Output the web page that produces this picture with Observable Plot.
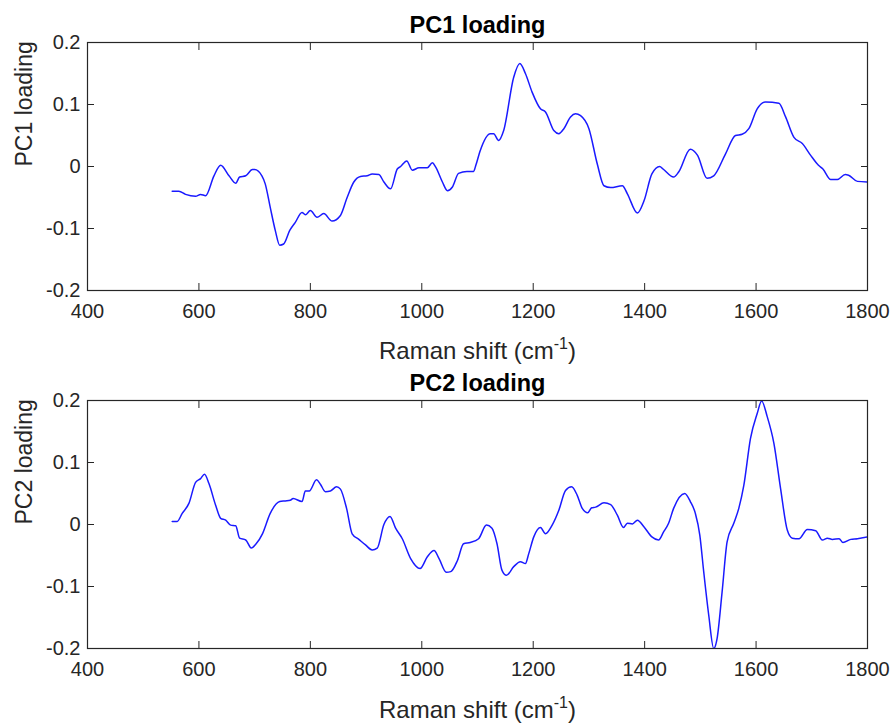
<!DOCTYPE html>
<html><head><meta charset="utf-8">
<script src="https://cdn.jsdelivr.net/npm/d3@7"></script>
<script src="https://cdn.jsdelivr.net/npm/@observablehq/plot@0.6"></script>
<style>
body{margin:0;background:#fff;}
#chart{width:895px;height:726px;font-family:"Liberation Sans",Arial,Helvetica,sans-serif;}
#chart svg{display:block;}
</style></head><body><div id="chart"></div>
<script>
const pc1Shift = [552,564,576,594,603,612,627,639,654,666,673,684,696,700,713,719,728,737,745,752,763,773,785,791,800,812,824,839,854,866,878,890,902,911,923,932,944,956,962,973,983,995,1010,1019,1025,1037,1046,1055,1066,1081,1093,1097,1105,1123,1129,1138,1147,1165,1176,1186,1198,1213,1222,1237,1246,1255,1267,1276,1285,1300,1315,1327,1339,1360,1369,1387,1399,1413,1427,1433,1452,1461,1482,1495,1512,1524,1545,1563,1575,1587,1602,1617,1641,1653,1668,1683,1698,1712,1720,1734,1746,1760,1766,1782,1800];
const pc1Loading = [-0.040,-0.040,-0.045,-0.048,-0.045,-0.047,-0.015,0.002,-0.015,-0.027,-0.017,-0.015,-0.005,-0.005,-0.015,-0.028,-0.066,-0.103,-0.127,-0.125,-0.103,-0.090,-0.074,-0.078,-0.071,-0.082,-0.076,-0.088,-0.079,-0.050,-0.025,-0.016,-0.015,-0.012,-0.013,-0.025,-0.036,-0.004,0.000,0.009,-0.006,-0.002,-0.002,0.006,-0.001,-0.025,-0.039,-0.033,-0.011,-0.008,-0.008,0.002,0.026,0.053,0.053,0.042,0.058,0.144,0.166,0.150,0.120,0.093,0.088,0.058,0.053,0.061,0.080,0.085,0.082,0.061,0.004,-0.031,-0.034,-0.031,-0.044,-0.075,-0.055,-0.012,0.000,-0.004,-0.017,-0.009,0.028,0.018,-0.019,-0.015,0.020,0.050,0.052,0.061,0.093,0.104,0.102,0.080,0.047,0.037,0.018,0.002,-0.004,-0.021,-0.021,-0.013,-0.014,-0.024,-0.025];
const pc2Shift = [552,561,570,582,594,603,610,618,630,639,648,657,666,673,684,694,702,714,728,745,755,764,769,785,791,798,811,818,827,836,847,854,865,875,887,899,911,920,932,943,953,965,980,997,1010,1022,1031,1044,1052,1064,1075,1087,1102,1116,1126,1135,1144,1152,1165,1177,1186,1192,1201,1213,1222,1234,1246,1258,1269,1279,1288,1298,1305,1312,1327,1339,1351,1362,1369,1378,1387,1399,1413,1425,1434,1443,1452,1472,1482,1491,1499,1506,1515,1524,1530,1539,1548,1560,1569,1578,1590,1602,1610,1620,1632,1644,1656,1665,1677,1692,1707,1719,1728,1737,1749,1756,1770,1782,1800];
const pc2Loading = [0.005,0.005,0.018,0.034,0.068,0.074,0.081,0.066,0.031,0.010,0.007,-0.001,-0.002,-0.022,-0.025,-0.038,-0.032,-0.015,0.018,0.037,0.038,0.039,0.042,0.037,0.054,0.054,0.072,0.065,0.053,0.054,0.061,0.057,0.026,-0.015,-0.024,-0.033,-0.041,-0.038,0.000,0.013,-0.006,-0.023,-0.055,-0.071,-0.052,-0.042,-0.055,-0.077,-0.076,-0.058,-0.031,-0.029,-0.023,-0.001,-0.006,-0.031,-0.074,-0.082,-0.068,-0.060,-0.063,-0.047,-0.020,-0.005,-0.015,-0.001,0.023,0.055,0.061,0.047,0.026,0.019,0.027,0.028,0.035,0.032,0.015,-0.005,0.002,0.001,0.007,-0.004,-0.020,-0.025,-0.012,0.002,0.026,0.050,0.037,0.018,-0.017,-0.076,-0.146,-0.200,-0.184,-0.109,-0.028,0.002,0.026,0.063,0.139,0.179,0.199,0.174,0.131,0.058,-0.009,-0.022,-0.023,-0.008,-0.010,-0.025,-0.022,-0.024,-0.023,-0.029,-0.024,-0.023,-0.020];
const xTicks = [400,600,800,1000,1200,1400,1600,1800];
const yTicks = [-0.2,-0.1,0,0.1,0.2];
const yTickLabels = ["-0.2","-0.1","0","0.1","0.2"];
const panelTitles = ["PC1 loading","PC2 loading"];
const yLabels = ["PC1 loading","PC2 loading"];
const xLabelMain = "Raman shift (cm";
const xLabelSup = "-1";
const xLabelEnd = ")";

const axisColor = "#262626";
const FONT = '"Liberation Sans",Arial,Helvetica,sans-serif';

function panel(shift, loading, title, ylab, opts) {
  const data = shift.map((x, i) => ({x, y: loading[i]}));
  const fullLabel = xLabelMain + xLabelSup + xLabelEnd;
  const svg = Plot.plot({
    width: 895, height: opts.height,
    marginLeft: 87, marginRight: 28, marginTop: opts.marginTop, marginBottom: opts.marginBottom,
    style: {fontFamily: FONT, fontSize: "20px", color: axisColor, background: "white", overflow: "visible"},
    x: {domain: [400, 1800]},
    y: {domain: [-0.2, 0.2]},
    marks: [
      Plot.line(data, {x: "x", y: "y", stroke: "#1a1aff", strokeWidth: 1.5, curve: "monotone-x", clip: true}),
      Plot.frame({stroke: axisColor, strokeWidth: 1.2}),
      Plot.axisX(xTicks, {anchor: "bottom", tickSize: 7, dy: -7, text: null, label: null}),
      Plot.axisX(xTicks, {anchor: "top", tickSize: 7, dy: 7, text: null, label: null}),
      Plot.axisY(yTicks, {anchor: "left", tickSize: 7, dx: 7, text: null, label: null}),
      Plot.axisY(yTicks, {anchor: "right", tickSize: 7, dx: -7, text: null, label: null}),
      Plot.axisX(xTicks, {anchor: "bottom", tickSize: 0, tickPadding: 13, label: null, tickFormat: d => String(d)}),
      Plot.axisY(yTicks, {anchor: "left", tickSize: 0, tickPadding: 7, label: null, tickFormat: d => yTickLabels[yTicks.indexOf(d)]}),
      Plot.text([title], {text: d => d, frameAnchor: "top", dy: -10, lineAnchor: "bottom", fontWeight: "bold", fontSize: 23.5, fill: "black"}),
      Plot.text([ylab], {text: d => d, frameAnchor: "left", dx: -63, rotate: -90, fontSize: 23, fill: axisColor}),
      Plot.text([fullLabel], {text: d => d, frameAnchor: "bottom", dy: opts.labelDy, lineAnchor: "bottom", fontSize: 24, fill: axisColor})
    ]
  });
  // superscript for cm^-1
  svg.querySelectorAll("text").forEach(t => {
    if (t.textContent === fullLabel && t.children.length === 0) {
      t.textContent = "";
      const ns = "http://www.w3.org/2000/svg";
      const a = document.createElementNS(ns, "tspan"); a.textContent = xLabelMain;
      const b = document.createElementNS(ns, "tspan"); b.textContent = xLabelSup;
      b.setAttribute("font-size", "16"); b.setAttribute("dy", "-10");
      const c = document.createElementNS(ns, "tspan"); c.textContent = xLabelEnd; c.setAttribute("dy", "10");
      t.append(a, b, c);
    }
  });
  return svg;
}

const root = document.getElementById("chart");
root.append(panel(pc1Shift, pc1Loading, panelTitles[0], yLabels[0], {height: 370, marginTop: 42, marginBottom: 80, labelDy: 68}));
root.append(panel(pc2Shift, pc2Loading, panelTitles[1], yLabels[1], {height: 356, marginTop: 30, marginBottom: 78, labelDy: 69}));
</script></body></html>
